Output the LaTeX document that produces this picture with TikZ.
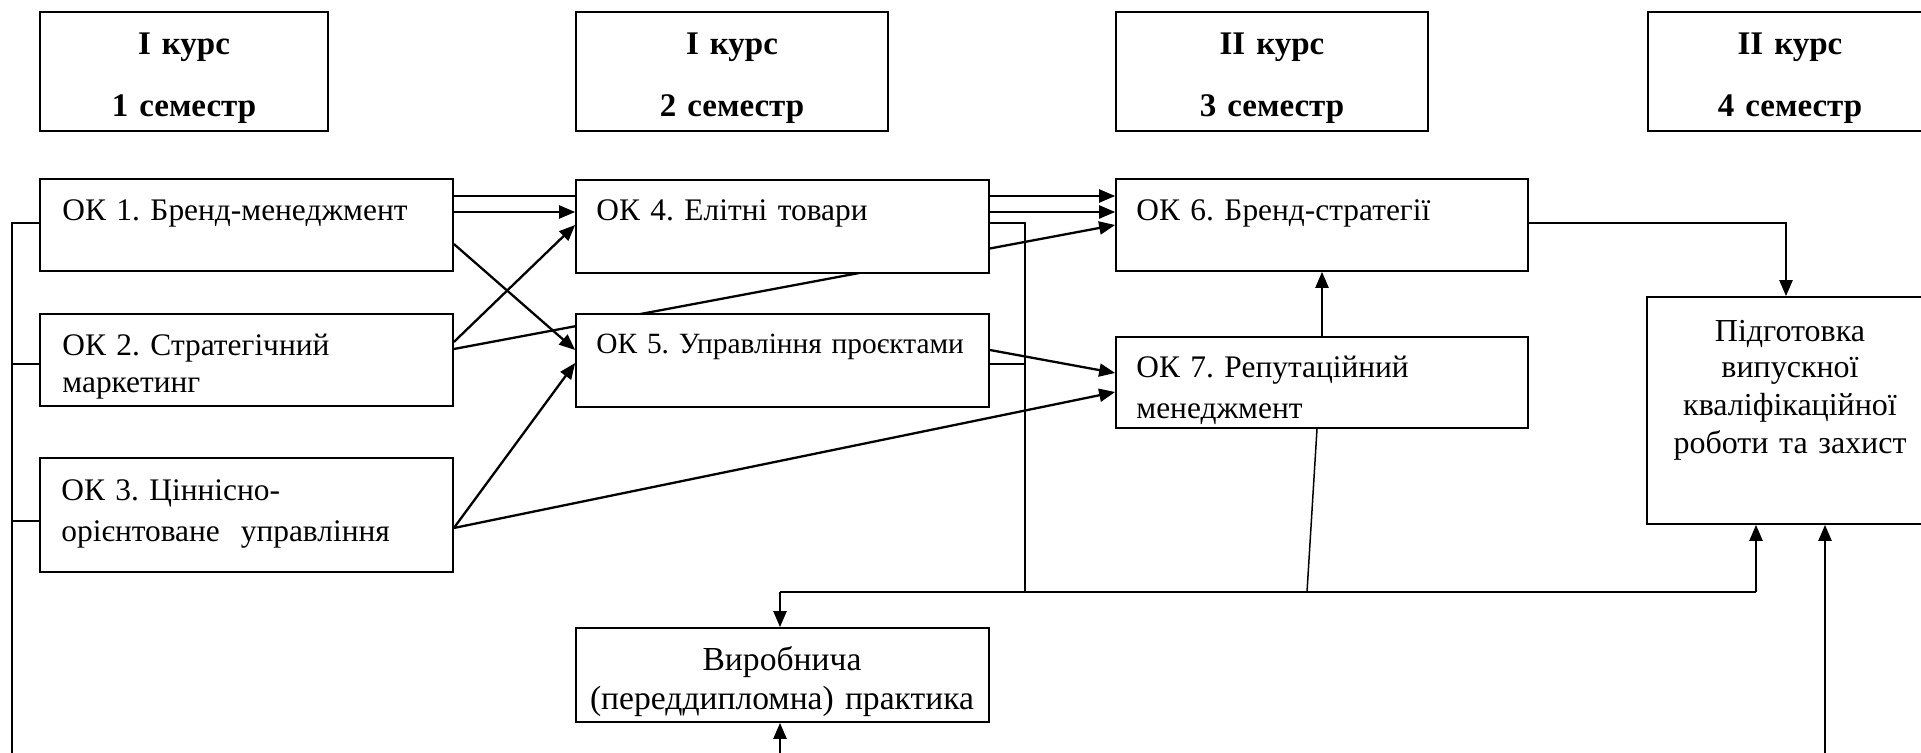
\documentclass[tikz,border=0pt]{standalone}
\usepackage{fontspec}
\setmainfont{Liberation Serif}
\usetikzlibrary{arrows.meta,fit}
\pgfdeclarelayer{bg}
\pgfsetlayers{bg,main}
\frenchspacing
\begin{document}
\begin{tikzpicture}[x=0.5pt,y=-0.5pt,
  box/.style={draw,line width=0.85pt,fill=white,inner sep=0pt},
  txt/.style={inner sep=0pt,text width=230pt,align=left,anchor=base west,font=\fontsize{15.7}{18.5}\selectfont},
  ctxt/.style={inner sep=0pt,text width=230pt,align=center,anchor=base,font=\fontsize{16}{19}\selectfont},
  hd/.style={inner sep=0pt,text width=150pt,align=center,anchor=base,font=\fontsize{16.5}{31}\selectfont\bfseries},
  arr/.style={line width=1.15pt,-{Triangle[length=8pt,width=6.5pt]}},
  ln/.style={line width=0.75pt},
  bus/.style={line width=1.2pt}]
\useasboundingbox (0,0) rectangle (1921,753);
\clip (0,0) rectangle (1921,753);

% header boxes
\node[box,fit={(40,12)(328,131)}] (h1) {};
\node[box,fit={(576,12)(888,131)}] (h2) {};
\node[box,fit={(1116,12)(1428,131)}] (h3) {};
\node[box,fit={(1648,12)(1932,131)}] (h4) {};
\node[hd] (th1) at (184,55) {I курс\\1 семестр};
\node[hd] (th2) at (732,55) {I курс\\2 семестр};
\node[hd] (th3) at (1272,55) {II курс\\3 семестр};
\node[hd] (th4) at (1790,55) {II курс\\4 семестр};

% course boxes
\node[box,fit={(40,179)(453,271)}] (ok1) {};
\node[box,fit={(40,314)(453,406)}] (ok2) {};
\node[box,fit={(40,458)(453,572)}] (ok3) {};
\node[box,fit={(576,180)(989,273)}] (ok4) {};
\node[box,fit={(576,314)(989,407)}] (ok5) {};
\node[box,fit={(1116,179)(1528,271)}] (ok6) {};
\node[box,fit={(1116,337)(1528,428)}] (ok7) {};
\node[box,fit={(1647,297)(1925,524)}] (fin) {};
\node[box,fit={(576,628)(989,722)}] (vyr) {};

\node[txt] (t1) at (62,221) {ОК 1. Бренд-менеджмент};
\node[txt] (t2) at (62,356) {ОК 2. Стратегічний\\маркетинг};
\node[txt] (t3) at (61,500) {ОК 3. Ціннісно-\\[2pt]орієнтоване\ \ управління};
\node[txt] (t4) at (596,221) {ОК 4. Елітні товари};
\node[txt,font=\fontsize{14.7}{18.5}\selectfont] (t5) at (596,354) {ОК 5. Управління проєктами};
\node[txt] (t6) at (1136,221) {ОК 6. Бренд-стратегії};
\node[txt] (t7) at (1136,378) {ОК 7. Репутаційний\\[2pt]менеджмент};
\node[ctxt] (tfin) at (1790,342) {Підготовка\\[-1.25pt]випускної\\кваліфікаційної\\роботи та захист};
\node[ctxt,font=\fontsize{16.8}{19}\selectfont] (tvyr) at (782,670) {Виробнича\\[0.5pt](переддипломна) практика};

% connectors passing behind boxes
\begin{pgfonlayer}{bg}
\draw[arr] (ok1.east |- 0,196) -- (ok6.west |- 0,196);
\draw[arr] (ok2.east |- 0,349) -- (ok6.west |- 0,225);
\end{pgfonlayer}

\draw[arr] (ok1.east |- 0,212) -- (ok4.west |- 0,212);
\draw[arr] (ok4.east |- 0,212) -- (ok6.west |- 0,212);
\draw[arr] (ok1.east |- 0,244) -- (ok5.west |- 0,350);
\draw[arr] (ok2.east |- 0,342) -- (ok4.west |- 0,225);
\draw[arr] (ok3.east |- 0,528) -- (ok5.west |- 0,363);
\draw[arr] (ok3.east |- 0,528) -- (ok7.west |- 0,392);
\draw[arr] (ok5.east |- 0,350) -- (ok7.west |- 0,373);
\draw[arr] (ok7.north) -- (ok6.south);
\draw[arr] (ok6.east |- 0,223) -| (fin.north);

% collecting bus
\coordinate (bL) at (780,592);
\coordinate (bR) at (1756,592);
\coordinate (bJ) at (1025,592);
\coordinate (bJ7) at (1307,592);
\draw[ln] (ok4.east |- 0,223) -| (bJ);
\draw[ln] (ok5.east |- 0,364) -- (bJ |- 0,364);
\draw[ln] (ok7.south -| 1317,0) -- (bJ7);
\draw[bus] (bL) -- (bR);
\draw[arr] (bL) -- (vyr.north -| bL);
\draw[arr] (bR) -- (fin.south -| bR);

% lines from below
\coordinate (bot1) at (780,760);
\coordinate (bot2) at (1825,760);
\draw[arr] (bot1) -- (vyr.south -| bot1);
\draw[arr] (bot2) -- (fin.south -| bot2);

% left bracket
\coordinate (lb) at (12,760);
\draw[ln] (ok1.west |- 0,223) -| (lb);
\draw[ln] (ok2.west |- 0,364) -- (lb |- 0,364);
\draw[ln] (ok3.west |- 0,521) -- (lb |- 0,521);
\end{tikzpicture}
\end{document}
